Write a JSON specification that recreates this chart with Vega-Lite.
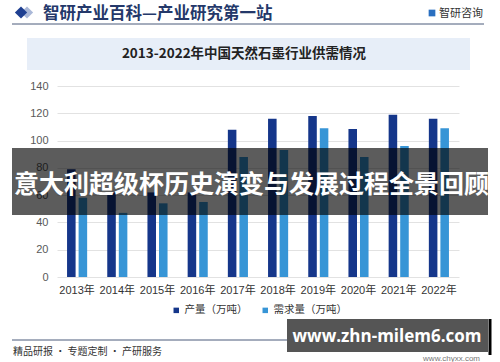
{
  "$schema": "https://vega.github.io/schema/vega-lite/v6.json",
  "width": 402,
  "height": 191,
  "autosize": {"type": "none"},
  "padding": {"left": 57, "top": 86, "right": 41, "bottom": 85},
  "background": "white",
  "config": {
    "view": {"stroke": null},
    "font": "Liberation Sans, Noto Sans CJK SC",
    "axis": {"labelFont": "Liberation Sans, Noto Sans CJK SC"},
    "legend": {"labelFont": "Noto Sans CJK SC"}
  },
  "layer": [
    {
      "data": {
        "values": [
          {"year": "2013年", "type": "产量（万吨）", "value": 79},
          {"year": "2014年", "type": "产量（万吨）", "value": 62},
          {"year": "2015年", "type": "产量（万吨）", "value": 62},
          {"year": "2016年", "type": "产量（万吨）", "value": 62},
          {"year": "2017年", "type": "产量（万吨）", "value": 108},
          {"year": "2018年", "type": "产量（万吨）", "value": 116},
          {"year": "2019年", "type": "产量（万吨）", "value": 118},
          {"year": "2020年", "type": "产量（万吨）", "value": 108.5},
          {"year": "2021年", "type": "产量（万吨）", "value": 119},
          {"year": "2022年", "type": "产量（万吨）", "value": 116},
          {"year": "2013年", "type": "需求量（万吨）", "value": 58},
          {"year": "2014年", "type": "需求量（万吨）", "value": 47},
          {"year": "2015年", "type": "需求量（万吨）", "value": 54},
          {"year": "2016年", "type": "需求量（万吨）", "value": 55},
          {"year": "2017年", "type": "需求量（万吨）", "value": 88},
          {"year": "2018年", "type": "需求量（万吨）", "value": 93},
          {"year": "2019年", "type": "需求量（万吨）", "value": 109},
          {"year": "2020年", "type": "需求量（万吨）", "value": 88},
          {"year": "2021年", "type": "需求量（万吨）", "value": 96},
          {"year": "2022年", "type": "需求量（万吨）", "value": 109}
        ]
      },
      "mark": {"type": "bar"},
      "encoding": {
        "x": {
          "field": "year", "type": "nominal", "sort": null,
          "scale": {"paddingInner": 0.5, "paddingOuter": 0.25},
          "axis": {"title": null, "labelAngle": 0, "domain": false, "ticks": false, "labelPadding": 7, "labelColor": "#333333", "labelFontSize": 11}
        },
        "xOffset": {"field": "type", "type": "nominal", "sort": null, "scale": {"paddingInner": 0.26, "paddingOuter": 0}},
        "y": {
          "field": "value", "type": "quantitative",
          "scale": {"domain": [0, 140], "nice": false},
          "axis": {"title": null, "values": [0, 20, 40, 60, 80, 100, 120, 140], "domain": false, "ticks": false, "labelPadding": 9, "labelColor": "#595959", "labelFontSize": 11, "gridColor": "#e2e2e2"}
        },
        "color": {
          "field": "type", "type": "nominal", "sort": null,
          "scale": {"domain": ["产量（万吨）", "需求量（万吨）"], "range": ["#15368a", "#3795d6"]},
          "legend": {"title": null, "orient": "none", "direction": "horizontal", "legendX": 114, "legendY": 219, "symbolType": "square", "symbolSize": 30, "labelFontSize": 10.5, "labelColor": "#333333", "columnPadding": 12, "labelOffset": 3}
        }
      }
    },
    {
      "data": {"values": [{}]},
      "mark": {"type": "point", "shape": "diamond", "filled": true, "size": 150, "opacity": 1, "color": "#aab8d8"},
      "encoding": {"x": {"value": -30}, "y": {"value": -73.5}}
    },
    {
      "data": {"values": [{}]},
      "mark": {"type": "point", "shape": "diamond", "filled": true, "size": 150, "opacity": 1, "color": "#1e3f91"},
      "encoding": {"x": {"value": -36}, "y": {"value": -73.5}}
    },
    {
      "data": {"values": [{}]},
      "mark": {"type": "text", "align": "left", "baseline": "middle", "font": "Noto Sans CJK SC", "fontWeight": "bold", "fontSize": 16.5, "color": "#24386a"},
      "encoding": {"x": {"value": -14}, "y": {"value": -72}, "text": {"value": "智研产业百科—产业研究第一站"}}
    },
    {
      "data": {"values": [{}]},
      "mark": {"type": "point", "shape": "square", "filled": true, "size": 45, "opacity": 1, "color": "#2a6fc0"},
      "encoding": {"x": {"value": 375}, "y": {"value": -73}}
    },
    {
      "data": {"values": [{}]},
      "mark": {"type": "text", "align": "left", "baseline": "middle", "font": "Noto Sans CJK SC", "fontSize": 11, "color": "#333333"},
      "encoding": {"x": {"value": 382}, "y": {"value": -72}, "text": {"value": "智研咨询"}}
    },
    {
      "data": {"values": [{}]},
      "mark": {"type": "rule", "color": "#4a5a7a", "strokeWidth": 1},
      "encoding": {"x": {"value": -45}, "x2": {"value": 427}, "y": {"value": -62}}
    },
    {
      "data": {"values": [{}]},
      "mark": {"type": "rect", "color": "#e7eef8"},
      "encoding": {"x": {"value": -30}, "x2": {"value": 413}, "y": {"value": -48}, "y2": {"value": -16}}
    },
    {
      "data": {"values": [{}]},
      "mark": {"type": "text", "align": "center", "baseline": "middle", "font": "Noto Sans CJK SC", "fontWeight": "bold", "fontSize": 13.5, "color": "#222222"},
      "encoding": {"x": {"value": 187}, "y": {"value": -32}, "text": {"value": "2013-2022年中国天然石墨行业供需情况"}}
    },
    {
      "data": {"values": [{}]},
      "mark": {"type": "rect", "color": "#000000", "opacity": 0.64},
      "encoding": {"x": {"value": -45}, "x2": {"value": 431}, "y": {"value": 62}, "y2": {"value": 129}}
    },
    {
      "data": {"values": [{}]},
      "mark": {"type": "text", "align": "left", "baseline": "middle", "font": "Noto Sans CJK SC", "fontWeight": "bold", "fontSize": 25, "color": "#ffffff"},
      "encoding": {"x": {"value": -43}, "y": {"value": 99}, "text": {"value": "意大利超级杯历史演变与发展过程全景回顾"}}
    },
    {
      "data": {"values": [{}]},
      "mark": {"type": "rule", "color": "#4a5a7a", "strokeWidth": 1},
      "encoding": {"x": {"value": -45}, "x2": {"value": 431}, "y": {"value": 254}}
    },
    {
      "data": {"values": [{}]},
      "mark": {"type": "text", "align": "left", "baseline": "middle", "font": "Noto Sans CJK SC", "fontSize": 10, "color": "#333333"},
      "encoding": {"x": {"value": -44}, "y": {"value": 266}, "text": {"value": "精品研报 · 专题定制 · 产研服务"}}
    },
    {
      "data": {"values": [{}]},
      "mark": {"type": "text", "align": "right", "baseline": "middle", "fontSize": 8, "color": "#777777"},
      "encoding": {"x": {"value": 423}, "y": {"value": 273}, "text": {"value": "www.chyxx.com"}}
    },
    {
      "data": {"values": [{}]},
      "mark": {"type": "rect", "color": "#555555", "opacity": 1},
      "encoding": {"x": {"value": 230}, "x2": {"value": 431}, "y": {"value": 233}, "y2": {"value": 266}}
    },
    {
      "data": {"values": [{}]},
      "mark": {"type": "rule", "color": "#000000", "strokeWidth": 3},
      "encoding": {"x": {"value": 433}, "y": {"value": 233}, "y2": {"value": 269}}
    },
    {
      "data": {"values": [{}]},
      "mark": {"type": "text", "align": "center", "baseline": "middle", "font": "Open Sans", "fontWeight": "bold", "fontSize": 17, "color": "#ffffff"},
      "encoding": {"x": {"value": 330}, "y": {"value": 251}, "text": {"value": "www.zhn-milem6.com"}}
    }
  ]
}
